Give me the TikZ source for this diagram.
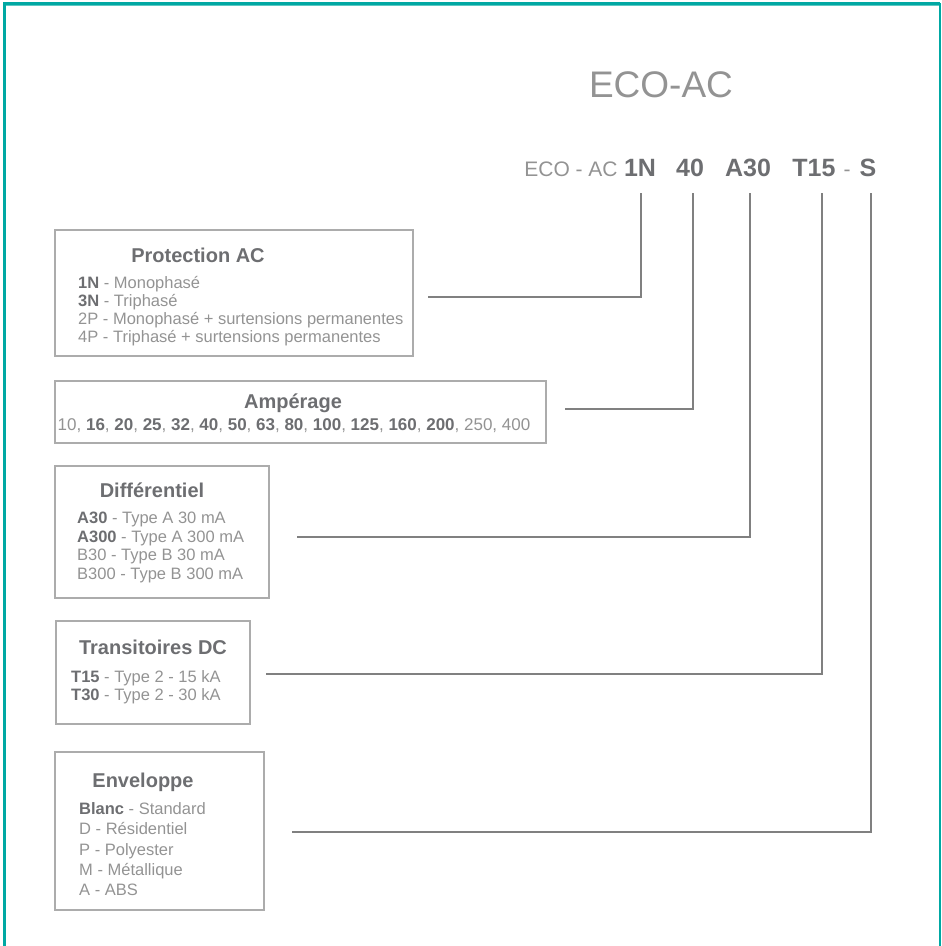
\documentclass[tikz,border=0pt]{standalone}
\usepackage{fontspec}
\setmainfont{Liberation Sans}
\definecolor{frameteal}{HTML}{00A8A3}
\definecolor{framelight}{HTML}{5CC8C4}
\definecolor{lightc}{HTML}{939393}
\definecolor{boldc}{HTML}{6D6E71}
\definecolor{boxc}{HTML}{ACACAC}
\definecolor{linec}{HTML}{808080}
\newcommand{\bd}[1]{{\bfseries\color{boldc}#1}}
\tikzset{
  boxst/.style={draw=boxc, line width=1.1pt, inner sep=0pt, fill=none},
  bodytxt/.style={anchor=base west, inner sep=0pt, text=lightc, font=\fontsize{16.5}{19}\selectfont},
  numtxt/.style={anchor=base, inner sep=0pt, text=lightc, font=\fontsize{17}{20}\selectfont},
  titletxt/.style={anchor=base, inner sep=0pt, text=boldc, font=\fontsize{20}{24}\selectfont\bfseries},
  codelight/.style={anchor=base, inner sep=0pt, text=lightc, font=\fontsize{21}{25}\selectfont},
  codebold/.style={anchor=base, inner sep=0pt, text=boldc, font=\fontsize{25}{30}\selectfont\bfseries},
  conn/.style={draw=linec, line width=1.3pt},
}
\begin{document}
\begin{tikzpicture}[x=1pt,y=-1pt]
\useasboundingbox (0,0) rectangle (942,946);
% frame
\draw[frameteal, line width=3pt] (4,946) -- (4,3) -- (940,3);
\draw[framelight, line width=1pt] (5.5,5.5) -- (939,5.5);
\draw[frameteal, line width=1.5pt] (940,3) -- (940,946);

% titles
\node[anchor=base, inner sep=0pt, text=lightc, font=\fontsize{37}{44}\selectfont] (main) at (661,97) {ECO-AC};
\node[codelight] (k0) at (571,176) {ECO - AC};
\node[codebold] (k1) at (640,176) {1N};
\node[codebold] (k2) at (690,176) {40};
\node[codebold] (k3) at (748,176) {A30};
\node[codebold] (k4) at (814,176) {T15};
\node[codelight] (k5) at (847,176) {-};
\node[codebold] (k6) at (868,176) {S};

% box 1
\node[boxst, minimum width=358pt, minimum height=126pt] (box1) at (234,293) {};
\node[titletxt] (t1) at (198,262) {Protection AC};
\node[bodytxt] (l11) at (78,288) {\bd{1N} - Monophasé};
\node[bodytxt] (l12) at (78,306) {\bd{3N} - Triphasé};
\node[bodytxt] (l13) at (78,324) {2P - Monophasé + surtensions permanentes};
\node[bodytxt] (l14) at (78,342) {4P - Triphasé + surtensions permanentes};

% box 2
\node[boxst, minimum width=491pt, minimum height=62pt] (box2) at (300.5,412) {};
\node[titletxt] (t2) at (293,408) {Ampérage};
\node[numtxt] (l21) at (294,430) {10, \bd{16}, \bd{20}, \bd{25}, \bd{32}, \bd{40}, \bd{50}, \bd{63}, \bd{80}, \bd{100}, \bd{125}, \bd{160}, \bd{200}, 250, 400};

% box 3
\node[boxst, minimum width=214pt, minimum height=132pt] (box3) at (162,532) {};
\node[titletxt] (t3) at (152,497) {Différentiel};
\node[bodytxt] (l31) at (77,523) {\bd{A30} - Type A 30 mA};
\node[bodytxt] (l32) at (77,542) {\bd{A300} - Type A 300 mA};
\node[bodytxt] (l33) at (77,560) {B30 - Type B 30 mA};
\node[bodytxt] (l34) at (77,579) {B300 - Type B 300 mA};

% box 4
\node[boxst, minimum width=194pt, minimum height=103pt] (box4) at (153,672.5) {};
\node[titletxt] (t4) at (153,654) {Transitoires DC};
\node[bodytxt] (l41) at (71,682) {\bd{T15} - Type 2 - 15 kA};
\node[bodytxt] (l42) at (71,700) {\bd{T30} - Type 2 - 30 kA};

% box 5
\node[boxst, minimum width=209pt, minimum height=158pt] (box5) at (159.5,831) {};
\node[titletxt] (t5) at (143,787) {Enveloppe};
\node[bodytxt] (l51) at (79,814) {\bd{Blanc} - Standard};
\node[bodytxt] (l52) at (79,834) {D - Résidentiel};
\node[bodytxt] (l53) at (79,855) {P - Polyester};
\node[bodytxt] (l54) at (79,875) {M - Métallique};
\node[bodytxt] (l55) at (79,895) {A - ABS};

% connector ends
\coordinate (s1) at (428,297);
\coordinate (s2) at (565,409);
\coordinate (s3) at (297,537);
\coordinate (s4) at (266,674);
\coordinate (s5) at (292,832);
\coordinate (e1) at (641,193);
\coordinate (e2) at (693,193);
\coordinate (e3) at (750,193);
\coordinate (e4) at (822,193);
\coordinate (e5) at (871,193);
\draw[conn] (s1) -| (e1);
\draw[conn] (s2) -| (e2);
\draw[conn] (s3) -| (e3);
\draw[conn] (s4) -| (e4);
\draw[conn] (s5) -| (e5);
\end{tikzpicture}
\end{document}
